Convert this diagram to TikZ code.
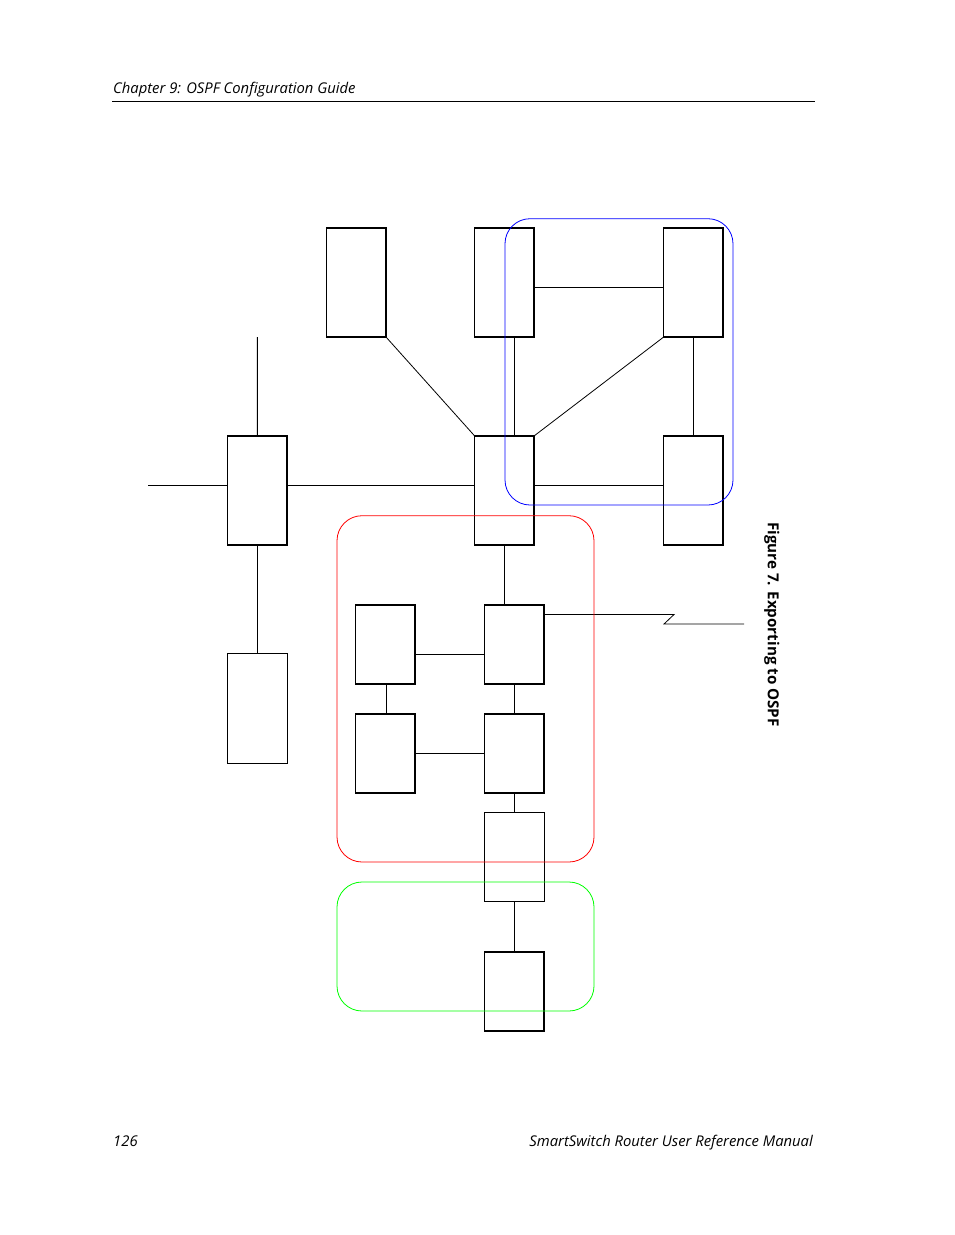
\documentclass[tikz,border=0pt]{standalone}
\usepackage{fontspec}
\setmainfont{Open Sans}
\usetikzlibrary{positioning}
\newcommand{\routerbox}[6][router]{\node[#1, minimum width=#5-#3, minimum height=#6-#4] (#2) at ({(#3+#5)/2},{(#4+#6)/2}) {};}
\tikzset{
  router/.style={draw, line width=1.3pt, inner sep=0pt, outer sep=0pt},
  routerthin/.style={draw, line width=1pt, inner sep=0pt, outer sep=0pt},
  link/.style={line width=0.8pt},
  area/.style={line width=0.8pt, rounded corners=25pt},
  pagetext/.style={inner sep=0pt, font=\fontsize{14.8}{17}\selectfont\itshape}
}
\begin{document}
\begin{tikzpicture}[x=1pt, y=-1pt]
    \useasboundingbox (0,0) rectangle (954,1235);
    % header and footer
    \node[pagetext, anchor=base west] (chapter) at (113,93) {Chapter 9: OSPF Configuration Guide};
    \coordinate (ruleleft) at (112,101);
    \coordinate (ruleright) at (815,101);
    \draw[link] (ruleleft) -- (ruleright);
    \node[pagetext, anchor=base west] (pagenum) at (113,1146) {126};
    \node[pagetext, anchor=base east] (manual) at (813,1146) {SmartSwitch Router User Reference Manual};
    \node[rotate=-90, anchor=south west, inner sep=0pt, font=\fontsize{15.2}{18}\selectfont\bfseries] (caption) at (764,522) {Figure 7. Exporting to OSPF};
    % top row
    \routerbox{topa}{326.7}{228}{386}{337}
    \routerbox{topb}{474.7}{228}{534}{337}
    \routerbox{topc}{663.7}{228}{723}{337}
    % middle row
    \routerbox{mida}{227.7}{436}{287}{545}
    \routerbox{midb}{474.7}{436}{534}{545}
    \routerbox{midc}{663.7}{436}{723}{545}
    % lower left
    \routerbox[routerthin]{lowa}{227.7}{653.5}{287}{763.5}
    % red area
    \routerbox{reda}{355.7}{605}{415}{684}
    \routerbox{redb}{484.7}{605}{544}{684}
    \routerbox{redc}{355.7}{714}{415}{793}
    \routerbox{redd}{484.7}{714}{544}{793}
    \routerbox[routerthin]{rede}{484.7}{812.5}{544}{901.5}
    % green area
    \routerbox{grna}{484.7}{952}{544}{1031}
    % free ends
    \coordinate (stubw) at (148,485.5);
    \coordinate (stubn) at (257.35,337);
    \coordinate (kinka) at (674,614.5);
    \coordinate (kinkb) at (664,624);
    \coordinate (kinkc) at (744,624);
    % links
    \draw[link] (topa.south east) -- (midb.north west);
    \draw[link] ([xshift=10pt]topb.south) -- ([xshift=10pt]midb.north);
    \draw[link] ([yshift=-5pt]topb.east) -- ([yshift=-5pt]topc.west);
    \draw[link] (topc.south west) -- (midb.north east);
    \draw[link] (topc.south) -- (midc.north);
    \draw[link] ([yshift=5pt]midb.east) -- ([yshift=5pt]midc.west);
    \draw[link] ([yshift=5pt]mida.east) -- ([yshift=5pt]midb.west);
    \draw[link] (stubw) -- ([yshift=5pt]mida.west);
    \draw[link] (stubn) -- (mida.north);
    \draw[link] (mida.south) -- (lowa.north);
    \draw[link] (midb.south) -- ([xshift=-10pt]redb.north);
    \draw[link] ([yshift=-10pt]reda.east) -- ([yshift=-10pt]redb.west);
    \draw[link] ([xshift=1pt]reda.south) -- ([xshift=1pt]redc.north);
    \draw[link] (redc.east) -- (redd.west);
    \draw[link] (redb.south) -- (redd.north);
    \draw[link] (redd.south) -- (rede.north);
    \draw[link] (rede.south) -- (grna.north);
    \draw[link] ([yshift=30pt]redb.east) -- (kinka) -- (kinkb) -- (kinkc);
    % areas
    \draw[area, blue] (505,218.7) rectangle (733,505);
    \draw[area, red] (337,515.7) rectangle (594,862);
    \draw[area, green] (337,882) rectangle (594,1011);
\end{tikzpicture}
\end{document}
